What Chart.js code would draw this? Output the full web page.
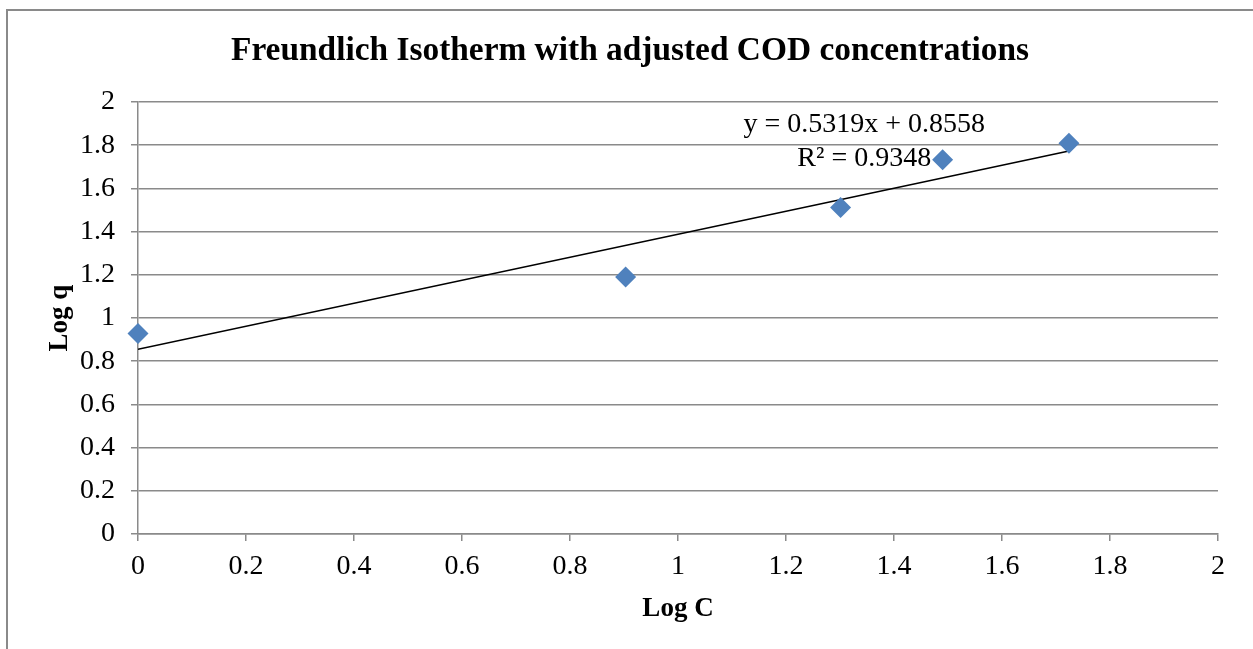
<!DOCTYPE html>
<html>
<head>
<meta charset="utf-8">
<script src="https://cdn.jsdelivr.net/npm/chart.js@4/dist/chart.umd.min.js"></script>
<style>
  html, body { margin: 0; padding: 0; background: #fff; }
  #wrap { position: relative; width: 1253px; height: 649px; overflow: hidden; }
  #moldura { position: absolute; left: 6px; top: 9px; width: 1300px; height: 700px;
             border-left: 2px solid #8a8a8a; border-top: 2px solid #8a8a8a; }
  canvas { position: absolute; left: 0; top: 0; }
</style>
</head>
<body>
<div id="wrap">
  <div id="moldura"></div>
  <canvas id="grafico" width="1253" height="649"></canvas>
</div>
<script>
// dados
const logC = [0, 0.903, 1.301, 1.49, 1.724]
const logQ = [0.928, 1.19, 1.512, 1.733, 1.809]

// linha de tendencia (y = 0.5319x + 0.8558) nos extremos
const tendX = [0, 1.724]
const tendY = [0.8558, 1.7728]

const titulo = 'Freundlich Isotherm with adjusted COD concentrations'
const equacao = ['y = 0.5319x + 0.8558', 'R² = 0.9348']

const fonte = "'Liberation Serif', 'Times New Roman', serif"
const corGrade = '#8a8a8a'

const pontos = logC.map((x, i) => ({ x: x, y: logQ[i] }))
const tendencia = tendX.map((x, i) => ({ x: x, y: tendY[i] }))

// rotulo sem zero sobrando: 2, 1.8, 1 ...
const formataTick = (v) => String(Math.round(v * 10) / 10)

// titulo e equacao desenhados a mao
const pluginTextos = {
  id: 'textos',
  afterDraw(chart) {
    const ctx = chart.ctx
    const sx = chart.scales.x, sy = chart.scales.y
    ctx.save()
    ctx.fillStyle = '#000'
    ctx.textAlign = 'center'
    ctx.textBaseline = 'middle'
    ctx.font = 'bold 33.4px ' + fonte
    ctx.fillText(titulo, 630, 51)
    ctx.font = '28px ' + fonte
    ctx.fillText(equacao[0], sx.getPixelForValue(1.345), sy.getPixelForValue(1.895))
    ctx.fillText(equacao[1], sx.getPixelForValue(1.345), sy.getPixelForValue(1.738))
    ctx.restore()
  }
}

new Chart(document.getElementById('grafico'), {
  type: 'scatter',
  data: {
    datasets: [
      {
        label: 'Log q',
        data: pontos,
        pointStyle: 'rectRot',
        pointRadius: 10.5,
        pointHoverRadius: 10.5,
        backgroundColor: '#4F81BD',
        borderColor: '#4F81BD',
        borderWidth: 0,
        clip: false,
        order: 1
      },
      {
        type: 'line',
        label: 'Linear',
        data: tendencia,
        borderColor: '#000',
        borderWidth: 1.5,
        pointRadius: 0,
        fill: false,
        order: 2
      }
    ]
  },
  options: {
    responsive: false,
    animation: false,
    layout: { padding: { left: 0, right: 35, top: 102, bottom: 0 } },
    plugins: {
      legend: { display: false },
      tooltip: { enabled: false },
      title: { display: false }
    },
    scales: {
      x: {
        type: 'linear',
        min: 0,
        max: 2,
        afterFit: (escala) => { escala.height = 115 },
        ticks: { stepSize: 0.2, color: '#000', font: { family: fonte, size: 28 }, padding: 9, maxRotation: 0, callback: formataTick },
        grid: { drawOnChartArea: false, color: corGrade, lineWidth: 1.5, tickLength: 7 },
        border: { color: corGrade, width: 1.5 },
        title: {
          display: true,
          text: 'Log C',
          color: '#000',
          font: { family: fonte, size: 27, weight: 'bold' },
          padding: { top: 0, bottom: 24 }
        }
      },
      y: {
        min: 0,
        max: 2,
        afterFit: (escala) => { escala.width = 138 },
        ticks: { stepSize: 0.2, color: '#000', font: { family: fonte, size: 28 }, padding: 16, callback: formataTick },
        grid: { color: corGrade, lineWidth: 1.5, tickLength: 7 },
        border: { color: corGrade, width: 1.5 },
        title: {
          display: true,
          text: 'Log q',
          color: '#000',
          font: { family: fonte, size: 27, weight: 'bold' },
          padding: { top: 44, bottom: 0 }
        }
      }
    }
  },
  plugins: [pluginTextos]
})
</script>
</body>
</html>
